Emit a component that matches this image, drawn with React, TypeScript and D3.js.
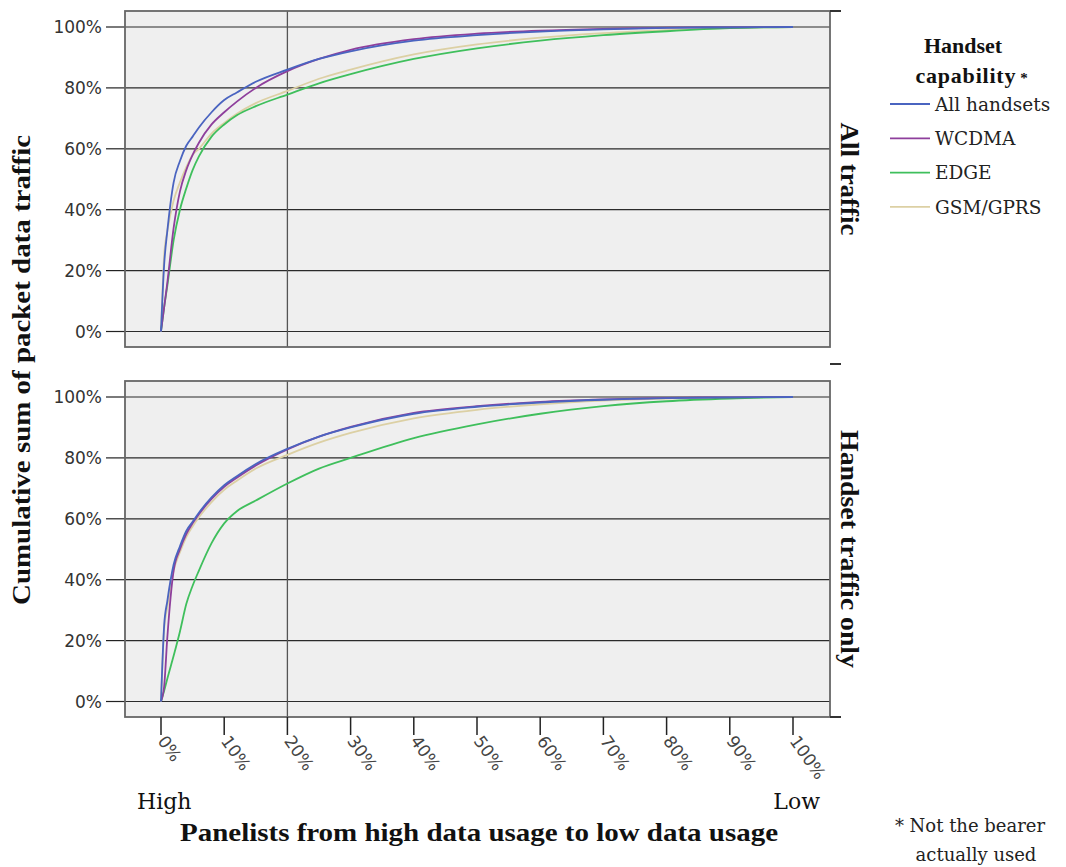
import React from "react";
import * as d3 from "d3";

const width = 1066;
const height = 867;

// percent of panelists (sorted from high to low usage)
const panelistPct = [0, 0.5, 1, 2, 3, 4, 5, 6, 8, 10, 12, 15, 20, 25, 30, 40, 50, 60, 70, 80, 90, 100];

// All traffic panel
const allAllHandsets = [0, 22, 33, 49, 56, 61, 64, 67, 72, 76, 78.5, 82, 86, 89.5, 92, 95.5, 97.3, 98.5, 99.2, 99.7, 99.9, 100];
const allWcdma = [0, 8, 16, 34, 46, 53, 58, 62, 68, 72, 75.5, 80, 85.5, 89.5, 92.5, 96, 97.8, 98.8, 99.4, 99.8, 99.9, 100];
const allEdge = [0, 8, 15, 30, 40, 47, 53, 57.5, 64, 68, 71, 74, 77.8, 81.5, 84.5, 89.5, 93, 95.5, 97.3, 98.6, 99.6, 100];
const allGsm = [0, 25, 33, 43, 49, 54, 58, 60, 65, 68.5, 71.5, 75, 79, 83, 86, 91, 94.3, 96.5, 98, 99, 99.7, 100];

// Handset traffic only panel
const hsAllHandsets = [0, 25, 33, 45, 51, 56, 59, 62, 67, 71, 74, 78, 83, 87, 90, 94.5, 96.8, 98.2, 99.1, 99.6, 99.9, 100];
const hsWcdma = [0, 5, 21, 43, 50, 55, 58.5, 61.5, 66.5, 70.5, 73.5, 77.5, 82.8, 87, 90.2, 94.8, 97, 98.4, 99.2, 99.7, 99.9, 100];
const hsEdge = [0, 3.5, 7.5, 15, 23, 32, 38, 43, 52, 58.5, 62.5, 66, 71.6, 76.5, 80, 86.5, 91, 94.5, 97, 98.6, 99.5, 100];
const hsGsm = [0, 24, 31, 43, 49, 54, 57.5, 60.5, 65.5, 69.5, 72.5, 76.5, 81, 85, 88.2, 93, 95.8, 97.6, 98.8, 99.5, 99.9, 100];

const seriesNames = ["All handsets", "WCDMA", "EDGE", "GSM/GPRS"];
const seriesColors = ["#4a64c0", "#8e3f9c", "#3fbf5c", "#dcd0a4"];
const panelNames = ["All traffic", "Handset traffic only"];
const xTicks = [0, 10, 20, 30, 40, 50, 60, 70, 80, 90, 100];
const yTicks = [0, 20, 40, 60, 80, 100];

const panels = [
  { name: panelNames[0], top: 11, bottom: 347, len: 113, values: [allAllHandsets, allWcdma, allEdge, allGsm] },
  { name: panelNames[1], top: 381, bottom: 717, len: 238, values: [hsAllHandsets, hsWcdma, hsEdge, hsGsm] }
];

const frameLeft = 125;
const frameRight = 830;
const serif = "'Liberation Serif', 'Times New Roman', serif";
const wideSerif = "'DejaVu Serif', serif";
const sans = "'DejaVu Sans', Verdana, sans-serif";

const x = d3.scaleLinear().domain([0, 100]).range([161, 793]);

export default function App() {
  // the two panels sit in one facet column
  const drawPanel = (p: any, pi: number) => {
    const y = d3.scaleLinear().domain([0, 100]).range([p.top + 320.5, p.top + 16]);
    const line = d3
      .line<number>()
      .x((_, i) => x(panelistPct[i]))
      .y((d) => y(d))
      .curve(d3.curveMonotoneX);
    return (
      <g key={pi}>
        <rect x={frameLeft} y={p.top} width={frameRight - frameLeft} height={p.bottom - p.top} fill="#efefef" />
        {yTicks.map((t) => (
          <g key={t}>
            <line x1={frameLeft} x2={frameRight} y1={y(t)} y2={y(t)} stroke="#2a2a2a" strokeWidth={1.2} />
            <line x1={106} x2={frameLeft} y1={y(t)} y2={y(t)} stroke="#222" strokeWidth={1.2} />
            <text x={102} y={y(t)} dy="0.36em" textAnchor="end" fontFamily={sans} fontSize={17} fill="#333">
              {t}%
            </text>
          </g>
        ))}
        <line x1={x(20)} x2={x(20)} y1={p.top} y2={p.bottom} stroke="#555" strokeWidth={1.3} />
        {[3, 2, 1, 0].map((si) => (
          <path key={si} d={line(p.values[si]) || ""} fill="none" stroke={seriesColors[si]} strokeWidth={1.8} />
        ))}
        <rect
          x={frameLeft}
          y={p.top}
          width={frameRight - frameLeft}
          height={p.bottom - p.top}
          fill="none"
          stroke="#666"
          strokeWidth={1.8}
        />
        <text
          transform={`translate(841, ${(p.top + p.bottom) / 2}) rotate(90)`}
          textAnchor="middle"
          fontFamily={serif}
          fontWeight="bold"
          fontSize={25}
          textLength={p.len}
          lengthAdjust="spacingAndGlyphs"
          fill="#111"
        >
          {p.name}
        </text>
      </g>
    );
  };

  return (
    <svg width={width} height={height} style={{ position: "absolute", left: 0, top: 0, background: "#fff" }}>
      {panels.map(drawPanel)}

      {/* facet strip ticks */}
      {[11, 364, 717].map((ty) => (
        <line key={ty} x1={830} x2={841} y1={ty} y2={ty} stroke="#333" strokeWidth={2} />
      ))}

      {/* x axis */}
      {xTicks.map((t) => (
        <g key={t}>
          <line x1={x(t)} x2={x(t)} y1={717} y2={735} stroke="#222" strokeWidth={1.5} />
          <text
            transform={`translate(${x(t) - 4}, 741) rotate(55)`}
            fontFamily={sans}
            fontSize={17}
            fill="#444"
          >
            {t}%
          </text>
        </g>
      ))}
      <text x={137} y={809} fontFamily={wideSerif} fontSize={22} fill="#111">
        High
      </text>
      <text x={820} y={809} textAnchor="end" fontFamily={wideSerif} fontSize={22} fill="#111">
        Low
      </text>
      <text
        x={479}
        y={841}
        textAnchor="middle"
        fontFamily={serif}
        fontWeight="bold"
        fontSize={26}
        textLength={598}
        lengthAdjust="spacingAndGlyphs"
        fill="#111"
      >
        Panelists from high data usage to low data usage
      </text>
      <text
        transform="translate(30, 370) rotate(-90)"
        textAnchor="middle"
        fontFamily={serif}
        fontWeight="bold"
        fontSize={26}
        textLength={470}
        lengthAdjust="spacingAndGlyphs"
        fill="#111"
      >
        Cumulative sum of packet data traffic
      </text>

      {/* legend */}
      <text x={963} y={53} textAnchor="middle" fontFamily={serif} fontWeight="bold" fontSize={22} fill="#111">
        Handset
      </text>
      <text x={972} y={83} textAnchor="middle" fontFamily={serif} fontWeight="bold" fontSize={22} letterSpacing={0.8} fill="#111">
        capability<tspan fontSize={15} dx={4}>*</tspan>
      </text>
      {seriesNames.map((s, i) => (
        <g key={s} transform={`translate(890, ${104 + i * 34.3})`}>
          <line x1={0} x2={40} y1={0} y2={0} stroke={seriesColors[i]} strokeWidth={1.8} />
          <text x={45} y={0} dy="0.36em" fontFamily={wideSerif} fontSize={18.5} fill="#222">
            {s}
          </text>
        </g>
      ))}

      {/* footnote */}
      <text x={970} y={832} textAnchor="middle" fontFamily={wideSerif} fontSize={18} fill="#222">
        * Not the bearer
      </text>
      <text x={976} y={861} textAnchor="middle" fontFamily={wideSerif} fontSize={18} fill="#222">
        actually used
      </text>
    </svg>
  );
}
